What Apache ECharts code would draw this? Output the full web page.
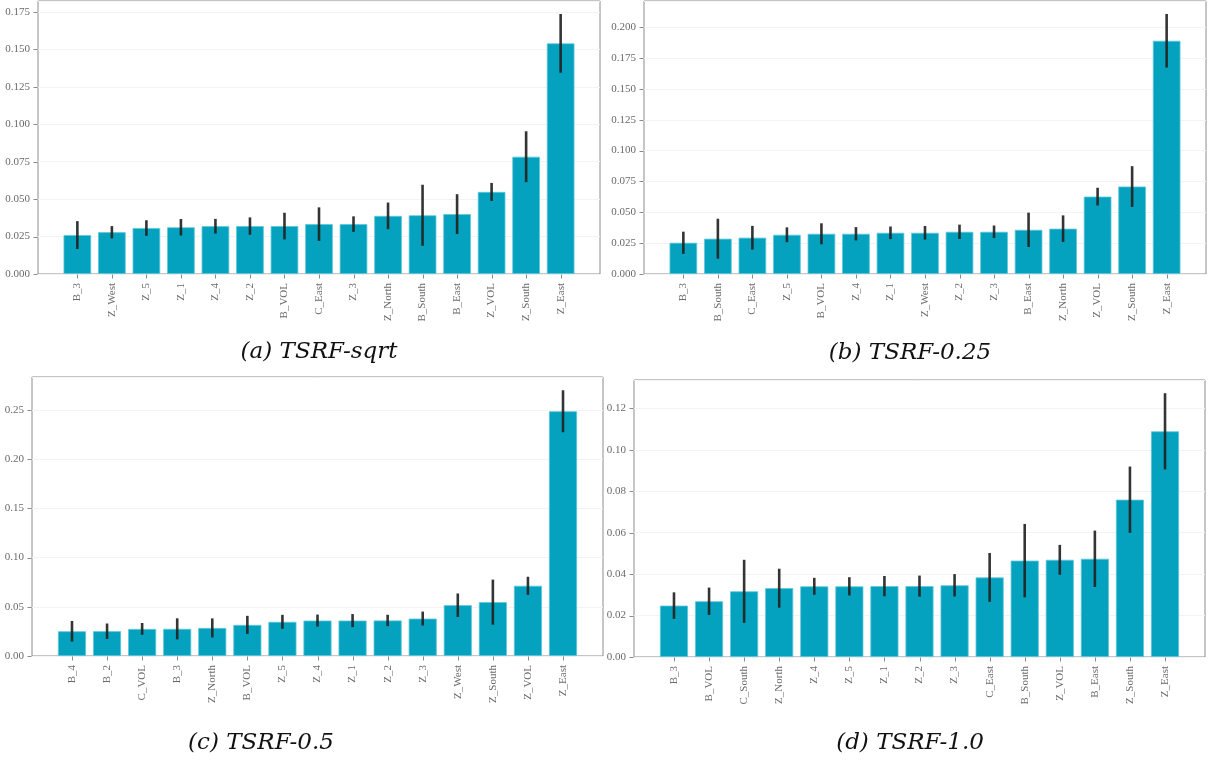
<!DOCTYPE html>
<html>
<head>
<meta charset="utf-8">
<script src="https://cdn.jsdelivr.net/npm/echarts@6/dist/echarts.min.js"></script>
<style>
  html, body { margin: 0; padding: 0; background: #ffffff; }
  #chart { width: 1211px; height: 761px; }
</style>
</head>
<body>
<div id="chart"></div>
<script>
// (a) TSRF-sqrt
const catsA = ['B_3', 'Z_West', 'Z_5', 'Z_1', 'Z_4', 'Z_2', 'B_VOL', 'C_East', 'Z_3', 'Z_North', 'B_South', 'B_East', 'Z_VOL', 'Z_South', 'Z_East'];
const valsA = [0.0260, 0.0279, 0.0307, 0.0312, 0.0319, 0.0320, 0.0320, 0.0333, 0.0333, 0.0388, 0.0392, 0.0400, 0.0548, 0.0783, 0.1540];
const errsA = [0.0093, 0.0041, 0.0052, 0.0055, 0.0049, 0.0058, 0.0089, 0.0112, 0.0052, 0.0089, 0.0204, 0.0133, 0.0060, 0.0170, 0.0196];
const ticksA = [0, 0.025, 0.05, 0.075, 0.1, 0.125, 0.15, 0.175];

// (b) TSRF-0.25
const catsB = ['B_3', 'B_South', 'C_East', 'Z_5', 'B_VOL', 'Z_4', 'Z_1', 'Z_West', 'Z_2', 'Z_3', 'B_East', 'Z_North', 'Z_VOL', 'Z_South', 'Z_East'];
const valsB = [0.0253, 0.0286, 0.0294, 0.0318, 0.0326, 0.0326, 0.0334, 0.0334, 0.0342, 0.0342, 0.0358, 0.0367, 0.0627, 0.0709, 0.1890];
const errsB = [0.0090, 0.0162, 0.0096, 0.0060, 0.0085, 0.0054, 0.0051, 0.0055, 0.0058, 0.0051, 0.0139, 0.0108, 0.0072, 0.0165, 0.0217];
const ticksB = [0, 0.025, 0.05, 0.075, 0.1, 0.125, 0.15, 0.175, 0.2];

// (c) TSRF-0.5
const catsC = ['B_4', 'B_2', 'C_VOL', 'B_3', 'Z_North', 'B_VOL', 'Z_5', 'Z_4', 'Z_1', 'Z_2', 'Z_3', 'Z_West', 'Z_South', 'Z_VOL', 'Z_East'];
const valsC = [0.0251, 0.0252, 0.0275, 0.0276, 0.0285, 0.0316, 0.0347, 0.0360, 0.0360, 0.0361, 0.0380, 0.0516, 0.0547, 0.0713, 0.2486];
const errsC = [0.0105, 0.0078, 0.0060, 0.0107, 0.0097, 0.0092, 0.0071, 0.0061, 0.0066, 0.0058, 0.0071, 0.0119, 0.0229, 0.0092, 0.0213];
const ticksC = [0, 0.05, 0.1, 0.15, 0.2, 0.25];

// (d) TSRF-1.0
const catsD = ['B_3', 'B_VOL', 'C_South', 'Z_North', 'Z_4', 'Z_5', 'Z_1', 'Z_2', 'Z_3', 'C_East', 'B_South', 'Z_VOL', 'B_East', 'Z_South', 'Z_East'];
const valsD = [0.0248, 0.0269, 0.0317, 0.0332, 0.0341, 0.0341, 0.0342, 0.0342, 0.0346, 0.0384, 0.0465, 0.0469, 0.0474, 0.0759, 0.1089];
const errsD = [0.0064, 0.0066, 0.0152, 0.0094, 0.0041, 0.0044, 0.0049, 0.0051, 0.0054, 0.0118, 0.0177, 0.0072, 0.0136, 0.0160, 0.0184];
const ticksD = [0, 0.02, 0.04, 0.06, 0.08, 0.1, 0.12];

const captions = ['(a) TSRF-sqrt', '(b) TSRF-0.25', '(c) TSRF-0.5', '(d) TSRF-1.0'];

// Panel frames and caption anchors
const layout = [
  { grid: { left: 38,  top: 1,   width: 562, height: 273 }, cap: [319, 352], step: 0.025, dec: 3 },
  { grid: { left: 644, top: 1,   width: 562, height: 273 }, cap: [910, 353], step: 0.025, dec: 3 },
  { grid: { left: 32,  top: 377, width: 571, height: 279 }, cap: [261, 743], step: 0.05,  dec: 2 },
  { grid: { left: 634, top: 380, width: 571, height: 277 }, cap: [910, 743], step: 0.02,  dec: 2 }
];

const panels = [
  { cats: catsA, vals: valsA, errs: errsA, ticks: ticksA },
  { cats: catsB, vals: valsB, errs: errsB, ticks: ticksB },
  { cats: catsC, vals: valsC, errs: errsC, ticks: ticksC },
  { cats: catsD, vals: valsD, errs: errsD, ticks: ticksD }
];

const BAR = '#04a2bf';
const FONT = '"Liberation Serif", "DejaVu Serif", serif';
const LABEL_COLOR = '#6a6a6a';
const SPINE = '#8c8c8c';
const TICK_LEN = 4;

const grids = [], xAxes = [], yAxes = [], series = [], graphics = [];

panels.forEach((p, k) => {
  const L = layout[k];
  const n = p.cats.length;
  // bar extent plus a 5% margin on each side
  const pad = 0.05 * (n - 1 + 0.8);
  const xmin = -0.4 - pad, xmax = n - 1 + 0.4 + pad;
  const top = Math.max(...p.vals.map((v, i) => v + p.errs[i]));
  const ymax = top * 1.05;
  const idx = p.cats.map((c, i) => i);

  grids.push(Object.assign({ show: true, borderColor: SPINE, borderWidth: 1, backgroundColor: 'transparent', containLabel: false }, L.grid));

  xAxes.push({
    type: 'value', gridIndex: k, min: xmin, max: xmax,
    axisLine: { show: false },
    splitLine: { show: false },
    axisTick: { show: false },
    axisLabel: {
      customValues: idx, rotate: 90, margin: 9,
      fontFamily: FONT, fontSize: 11, color: LABEL_COLOR,
      formatter: v => p.cats[Math.round(v)]
    }
  });

  yAxes.push({
    type: 'value', gridIndex: k, min: 0, max: ymax, interval: L.step,
    axisLine: { show: false },
    splitLine: { show: true, lineStyle: { color: '#f3f3f3', width: 1 } },
    axisTick: { show: false },
    axisLabel: {
      customValues: p.ticks, margin: 8,
      fontFamily: FONT, fontSize: 11, color: LABEL_COLOR,
      formatter: v => v.toFixed(L.dec)
    }
  });

  const barPx = 0.8 * L.grid.width / (xmax - xmin);

  series.push({
    type: 'bar', xAxisIndex: k, yAxisIndex: k,
    barWidth: barPx,
    data: p.vals.map((v, i) => [i, v]),
    itemStyle: { color: BAR, borderColor: '#5ec7da', borderWidth: 0.8 },
    animation: false
  });

  // error bars, with the category tick under the frame
  series.push({
    type: 'custom', xAxisIndex: k, yAxisIndex: k,
    data: p.vals.map((v, i) => [i, v - p.errs[i], v + p.errs[i]]),
    encode: { x: 0, y: [1, 2] },
    clip: false,
    renderItem: (params, api) => {
      const a = api.coord([api.value(0), api.value(1)]);
      const b = api.coord([api.value(0), api.value(2)]);
      const base = api.coord([api.value(0), 0]);
      const bx = Math.round(base[0]) + 0.5;
      return {
        type: 'group',
        children: [
          {
            type: 'line',
            shape: { x1: a[0], y1: a[1], x2: b[0], y2: b[1] },
            style: { stroke: 'rgba(35,35,35,0.92)', lineWidth: 2.6 }
          },
          {
            type: 'line',
            shape: { x1: bx, y1: base[1] + 0.5, x2: bx, y2: base[1] + 0.5 + TICK_LEN },
            style: { stroke: SPINE, lineWidth: 1 }
          }
        ]
      };
    },
    z: 5,
    animation: false
  });

  // value ticks on the left of the frame
  series.push({
    type: 'custom', xAxisIndex: k, yAxisIndex: k,
    data: p.ticks.map(t => [xmin, t]),
    encode: { x: 0, y: 1 },
    clip: false,
    silent: true,
    renderItem: (params, api) => {
      const c = api.coord([api.value(0), api.value(1)]);
      const cy = Math.round(c[1]) + 0.5;
      return {
        type: 'line',
        shape: { x1: c[0] - 0.5 - TICK_LEN, y1: cy, x2: c[0] - 0.5, y2: cy },
        style: { stroke: SPINE, lineWidth: 1 }
      };
    },
    animation: false
  });

  graphics.push({
    type: 'text', x: L.cap[0], y: L.cap[1],
    style: {
      text: captions[k], fill: '#111', align: 'center', verticalAlign: 'middle',
      font: 'italic 23px "DejaVu Serif", serif'
    }
  });
});

const chart = echarts.init(document.getElementById('chart'), null, { renderer: 'canvas' });
chart.setOption({
  backgroundColor: '#ffffff',
  animation: false,
  grid: grids,
  xAxis: xAxes,
  yAxis: yAxes,
  series: series,
  graphic: graphics
});
</script>
</body>
</html>
